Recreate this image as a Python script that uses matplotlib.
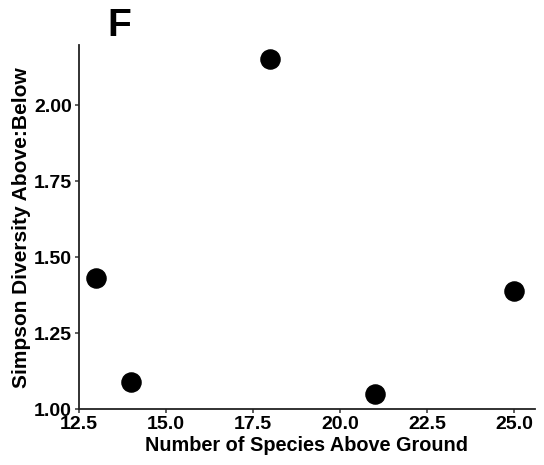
import matplotlib
matplotlib.use("Agg")
import matplotlib.pyplot as plt

species_above = [13, 14, 18, 21, 25]
simpson_ratio = [1.43, 1.09, 2.15, 1.05, 1.39]
xticks = [12.5, 15.0, 17.5, 20.0, 22.5, 25.0]
yticks = [1.00, 1.25, 1.50, 1.75, 2.00]

plt.rcParams['font.family'] = ['Liberation Sans', 'DejaVu Sans']
fig = plt.figure(figsize=(5.44, 4.65), dpi=100)
ax = fig.add_axes([0.145, 0.12, 0.838, 0.783])
ax.scatter(species_above, simpson_ratio, s=190, color='black', zorder=3)
ax.set_xlim(12.5, 25.6)
ax.set_ylim(1.0, 2.197)
ax.set_xticks(xticks)
ax.set_xticklabels([f"{v:.1f}" for v in xticks])
ax.set_yticks(yticks)
ax.set_yticklabels([f"{v:.2f}" for v in yticks])
for s in ['top', 'right']:
    ax.spines[s].set_visible(False)
for s in ['left', 'bottom']:
    ax.spines[s].set_linewidth(1.3)
    ax.spines[s].set_color('#222222')
ax.tick_params(labelsize=14, width=1.1, length=3, color='#333333', pad=2)
for lab in ax.get_xticklabels() + ax.get_yticklabels():
    lab.set_fontweight('bold')
ax.set_xlabel('Number of Species Above Ground', fontsize=14.3, fontweight='bold', labelpad=2)
ax.set_ylabel('Simpson Diversity Above:Below', fontsize=15, fontweight='bold', labelpad=2)
fig.text(0.219, 0.944, 'F', fontsize=28, fontweight='bold', ha='center', va='center')
fig.savefig('out.png', dpi=100)
